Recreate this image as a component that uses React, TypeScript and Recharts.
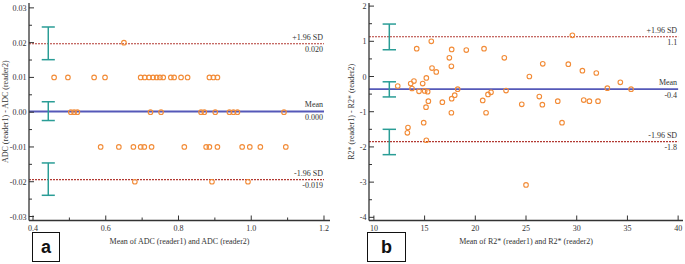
import React from "react";
import { ScatterChart, Scatter, XAxis, YAxis, ReferenceLine } from "recharts";

// ---- panel a: ADC ----
const aRowY = [0.02, 0.01, 0.0, -0.01, -0.02];
const aRowX = [
  [0.65],
  [0.458, 0.496, 0.568, 0.598, 0.696, 0.707, 0.719, 0.73, 0.74, 0.749, 0.758, 0.779, 0.788, 0.807, 0.825, 0.885, 0.896, 0.907],
  [0.504, 0.513, 0.522, 0.723, 0.752, 0.862, 0.871, 0.901, 0.94, 0.951, 0.962, 1.09],
  [0.586, 0.636, 0.676, 0.696, 0.706, 0.726, 0.816, 0.876, 0.885, 0.907, 0.975, 0.996, 1.025, 1.095],
  [0.68, 0.892, 0.991],
];
const aLimits = [0.0197, 0.0002, -0.0194];
const aLimitTop = ["+1.96 SD", "Mean", "-1.96 SD"];
const aLimitBottom = ["0.020", "0.000", "-0.019"];
const aCiX = 0.442;
const aCiLow = [0.0151, -0.0024, -0.0239];
const aCiHigh = [0.0245, 0.003, -0.0146];
const aXMajor = [0.4, 0.6, 0.8, 1.0, 1.2];
const aXMinor = [0.5, 0.7, 0.9, 1.1];
const aYMajor = [-0.03, -0.02, -0.01, 0, 0.01, 0.02, 0.03];
const aYMinor = [-0.025, -0.015, -0.005, 0.005, 0.015, 0.025];

// ---- panel b: R2* ----
const bMeanX = [
  12.35, 14.22, 15.66, 13.63, 13.95, 13.76, 14.45, 14.81, 15.17, 15.01, 15.3, 15.37, 15.14, 15.73, 16.15, 16.75,
  17.44, 17.67, 17.64, 17.67, 17.97, 18.26, 17.64, 14.91, 13.36, 13.3, 15.17, 19.11, 20.86, 20.73, 21.25, 21.55,
  21.06, 22.86, 23.03, 24.58, 25.33, 26.65, 26.31, 26.61, 28.13, 28.55, 29.17, 29.57, 30.56, 30.69, 31.25, 31.93,
  32.1, 33.02, 34.3, 35.36, 25.0,
];
const bDiff = [
  -0.27, 0.79, 1.0, -0.2, -0.13, -0.34, -0.42, -0.2, -0.04, -0.41, -0.43, -0.7, -0.87, 0.24, 0.13, -0.73,
  0.53, 0.77, 0.29, -0.63, -0.53, -0.36, -1.03, -1.31, -1.45, -1.6, -1.81, 0.75, 0.79, -0.68, -0.51, -0.45,
  -1.03, 0.53, -0.4, -0.79, 0.0, 0.36, -0.57, -0.8, -0.7, -1.31, 0.35, 1.17, 0.165, -0.67, -0.7, 0.1,
  -0.7, -0.33, -0.165, -0.36, -3.08,
];
const bLimits = [1.13, -0.36, -1.85];
const bLimitTop = ["+1.96 SD", "Mean", "-1.96 SD"];
const bLimitBottom = ["1.1", "-0.4", "-1.8"];
const bCiX = 11.52;
const bCiLow = [0.76, -0.58, -2.22];
const bCiHigh = [1.49, -0.15, -1.5];
const bXMajor = [10, 15, 20, 25, 30, 35, 40];
const bXMinor: number[] = [];
const bYMajor = [-4, -3, -2, -1, 0, 1, 2];
const bYMinor = [-3.5, -2.5, -1.5, -0.5, 0.5, 1.5];

const aPoints = aRowX.flatMap((xs, i) => xs.map((x) => ({ x, y: aRowY[i] })));
const bPoints = bMeanX.map((x, i) => ({ x, y: bDiff[i] }));

const FONT = '"Liberation Serif", "Times New Roman", serif';
const INK = "#333";
const ORANGE = "#f28c38";
const TEAL = "#2a9d96";
const RED = "#b23a33";
const BLUE = "#5558b8";

const Dot = (p: any) => <circle cx={p.cx} cy={p.cy} r={2.3} fill="none" stroke={ORANGE} strokeWidth={1.1} />;

const makeYTick = (majors: number[], fmt: (v: number) => string) => (p: any) => {
  const v = p.payload.value;
  const major = majors.includes(v);
  return (
    <g>
      <line x1={p.x} x2={p.x + (major ? 5 : 3)} y1={p.y} y2={p.y} stroke={INK} strokeWidth={1} />
      {major && (
        <text x={p.x - 2.5} y={p.y + 3} textAnchor="end" fontSize={8} fontFamily={FONT} fill={INK}>
          {fmt(v)}
        </text>
      )}
    </g>
  );
};

const makeXTick = (majors: number[], fmt: (v: number) => string) => (p: any) => {
  const v = p.payload.value;
  const major = majors.includes(v);
  return (
    <g>
      <line x1={p.x} x2={p.x} y1={p.y} y2={p.y - (major ? 5 : 3)} stroke={INK} strokeWidth={1} />
      {major && (
        <text x={p.x} y={p.y + 10.5} textAnchor="middle" fontSize={8} fontFamily={FONT} fill={INK}>
          {fmt(v)}
        </text>
      )}
    </g>
  );
};

const limitLabel = (top: string, bottom: string) => (p: any) => {
  const vb = p.viewBox;
  if (!vb) return null;
  const rx = vb.x + vb.width - 1;
  return (
    <g>
      <text x={rx} y={vb.y - 4} textAnchor="end" fontSize={8} fontFamily={FONT} fill={INK} stroke="none">{top}</text>
      <text x={rx} y={vb.y + 8.5} textAnchor="end" fontSize={8} fontFamily={FONT} fill={INK} stroke="none">{bottom}</text>
    </g>
  );
};

const yTitle = (text: string, dx: number) => (p: any) => {
  const vb = p.viewBox;
  if (!vb) return null;
  const cx = vb.x + dx;
  const cy = vb.y + vb.height / 2;
  return (
    <text x={cx} y={cy} transform={`rotate(-90 ${cx} ${cy})`} textAnchor="middle" dominantBaseline="central"
      fontSize={8} fontFamily={FONT} fill={INK}>
      {text}
    </text>
  );
};

interface PanelProps {
  width: number;
  rightMargin: number;
  points: { x: number; y: number }[];
  xDomain: [number, number];
  yDomain: [number, number];
  xMajor: number[];
  xMinor: number[];
  yMajor: number[];
  yMinor: number[];
  xFmt: (v: number) => string;
  yFmt: (v: number) => string;
  xEnd: number;
  limits: number[];
  limitTop: string[];
  limitBottom: string[];
  ciX: number;
  ciLow: number[];
  ciHigh: number[];
  capHalf: number;
  xTitle: string;
  yTitleText: string;
  yTitleDx: number;
}

function Panel(props: PanelProps) {
  const { xDomain } = props;
  return (
    <ScatterChart width={props.width} height={264} margin={{ top: 3, right: props.rightMargin, bottom: 0, left: 0 }}>
      <XAxis
        type="number"
        dataKey="x"
        domain={xDomain}
        allowDataOverflow
        ticks={[...props.xMajor, ...props.xMinor]}
        interval={0}
        height={43.5}
        tickSize={0}
        tickMargin={0}
        tickLine={false}
        axisLine={{ stroke: INK, strokeWidth: 1.3 }}
        tick={makeXTick(props.xMajor, props.xFmt)}
        label={{ value: props.xTitle, position: "insideBottom", offset: 20, fontSize: 8, fontFamily: FONT, fill: INK }}
      />
      <YAxis
        type="number"
        dataKey="y"
        domain={props.yDomain}
        allowDataOverflow
        ticks={[...props.yMajor, ...props.yMinor]}
        interval={0}
        width={29}
        tickSize={0}
        tickMargin={0}
        tickLine={false}
        axisLine={{ stroke: INK, strokeWidth: 1.3 }}
        tick={makeYTick(props.yMajor, props.yFmt)}
        label={{ content: yTitle(props.yTitleText, props.yTitleDx) }}
      />
      {props.limits.map((v, i) => (
        <ReferenceLine
          key={"l" + i}
          segment={[{ x: xDomain[0], y: v }, { x: props.xEnd, y: v }]}
          stroke={i === 1 ? BLUE : RED}
          strokeWidth={i === 1 ? 1.8 : 1.1}
          strokeDasharray={i === 1 ? undefined : "2 1"}
          label={{ content: limitLabel(props.limitTop[i], props.limitBottom[i]) }}
        />
      ))}
      {props.ciLow.map((lo, i) => (
        <ReferenceLine key={"cv" + i} segment={[{ x: props.ciX, y: lo }, { x: props.ciX, y: props.ciHigh[i] }]} stroke={TEAL} strokeWidth={1.5} />
      ))}
      {props.ciLow.map((lo, i) => (
        <ReferenceLine key={"cl" + i} segment={[{ x: props.ciX - props.capHalf, y: lo }, { x: props.ciX + props.capHalf, y: lo }]} stroke={TEAL} strokeWidth={1.5} />
      ))}
      {props.ciHigh.map((hi, i) => (
        <ReferenceLine key={"ch" + i} segment={[{ x: props.ciX - props.capHalf, y: hi }, { x: props.ciX + props.capHalf, y: hi }]} stroke={TEAL} strokeWidth={1.5} />
      ))}
      <Scatter data={props.points} shape={Dot} isAnimationActive={false} />
    </ScatterChart>
  );
}

const boxStyle: React.CSSProperties = {
  position: "absolute",
  top: 232,
  height: 30,
  border: "1.5px solid #111",
  boxSizing: "border-box",
  display: "flex",
  alignItems: "center",
  justifyContent: "center",
  fontFamily: '"Liberation Sans", Arial, sans-serif',
  fontWeight: 700,
  fontSize: 18,
  color: "#111",
  background: "#fff",
};

export default function App() {
  return (
    <div style={{ position: "absolute", left: 0, top: 0, width: 685, height: 264, background: "#fff", overflow: "hidden" }}>
      <div style={{ position: "absolute", left: 0, top: 0 }}>
        <Panel
          width={340}
          rightMargin={10}
          points={aPoints}
          xDomain={[0.389, 1.2165]}
          yDomain={[-0.03115, 0.0314]}
          xMajor={aXMajor}
          xMinor={aXMinor}
          yMajor={aYMajor}
          yMinor={aYMinor}
          xFmt={(v) => v.toFixed(1)}
          yFmt={(v) => v.toFixed(2)}
          xEnd={1.2}
          limits={aLimits}
          limitTop={aLimitTop}
          limitBottom={aLimitBottom}
          ciX={aCiX}
          ciLow={aCiLow}
          ciHigh={aCiHigh}
          capHalf={0.018}
          xTitle="Mean of ADC (reader1) and ADC (reader2)"
          yTitleText="ADC (reader1) - ADC (reader2)"
          yTitleDx={5.3}
        />
      </div>
      <div style={{ position: "absolute", left: 340, top: 0 }}>
        <Panel
          width={345}
          rightMargin={2}
          points={bPoints}
          xDomain={[9.517, 40.48]}
          yDomain={[-4.09, 2.088]}
          xMajor={bXMajor}
          xMinor={bXMinor}
          yMajor={bYMajor}
          yMinor={bYMinor}
          xFmt={(v) => String(v)}
          yFmt={(v) => String(v)}
          xEnd={40}
          limits={bLimits}
          limitTop={bLimitTop}
          limitBottom={bLimitBottom}
          ciX={bCiX}
          ciLow={bCiLow}
          ciHigh={bCiHigh}
          capHalf={0.66}
          xTitle="Mean of R2* (reader1) and R2* (reader2)"
          yTitleText="R2* (reader1) - R2* (reader2)"
          yTitleDx={11}
        />
      </div>
      <div style={{ ...boxStyle, left: 32, width: 28 }}>a</div>
      <div style={{ ...boxStyle, left: 367, width: 39 }}>b</div>
    </div>
  );
}
